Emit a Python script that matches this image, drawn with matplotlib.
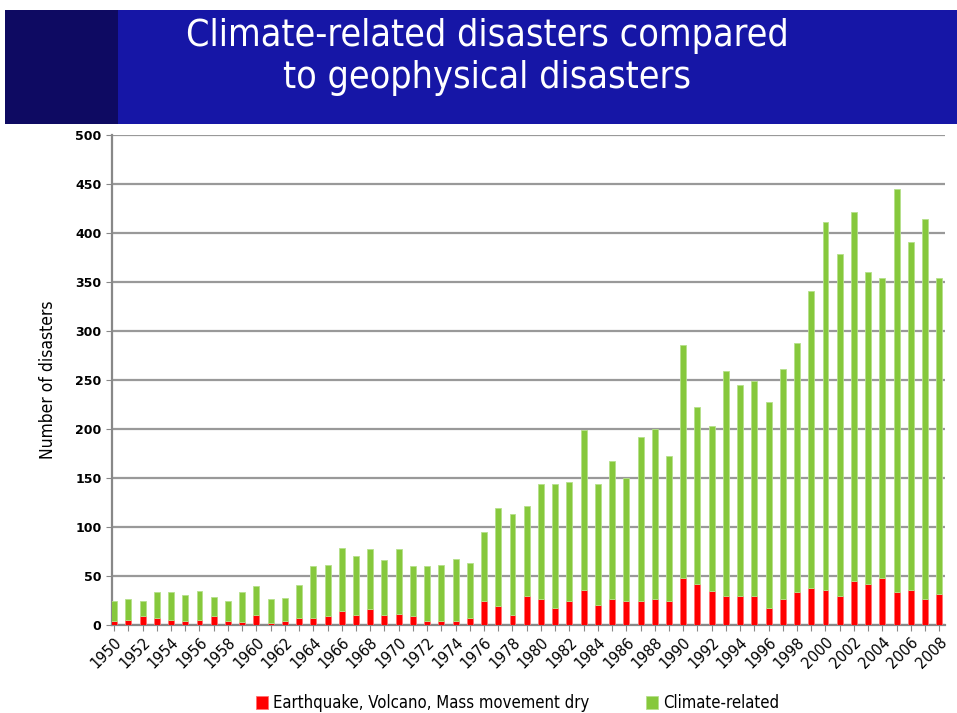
import matplotlib.pyplot as plt
from matplotlib.patches import Rectangle
import numpy as np

years = list(range(1950, 2009))
geophysical = [4, 5, 9, 7, 5, 4, 5, 9, 4, 3, 10, 2, 4, 7, 7, 9, 14, 10, 16, 10,
               11, 9, 4, 4, 4, 7, 25, 19, 10, 30, 27, 17, 24, 36, 20, 27, 24, 24, 27, 24,
               48, 42, 35, 30, 30, 30, 17, 27, 34, 38, 36, 30, 45, 42, 48, 34, 36, 27, 32]
climate = [20, 22, 15, 27, 29, 27, 30, 20, 20, 31, 30, 25, 24, 34, 53, 52, 65, 60, 62, 56,
           67, 51, 56, 57, 63, 56, 70, 100, 103, 91, 117, 127, 122, 163, 124, 140, 126, 168, 173, 148,
           238, 180, 168, 229, 215, 219, 211, 234, 254, 303, 375, 349, 376, 318, 306, 411, 355, 387, 322]
year_labels = [str(y) if y % 2 == 0 else '' for y in years]

red = '#FF0000'
green = '#86C83C'
narrow = dict(family='DejaVu Sans', stretch='condensed')

fig = plt.figure(figsize=(9.57, 7.13), dpi=100)

# title banner
fig.patches.append(Rectangle((0.005, 1 - 124/713), 0.995, 114/713, transform=fig.transFigure,
                             facecolor='#1616A6', edgecolor='none', zorder=0))
fig.patches.append(Rectangle((0.005, 1 - 124/713), 113/957, 114/713, transform=fig.transFigure,
                             facecolor='#0E0A62', edgecolor='none', zorder=1))
fig.text(0.509, 1 - 57/713, 'Climate-related disasters compared\nto geophysical disasters',
         ha='center', va='center', color='white', fontsize=27, linespacing=1.2,
         fontweight='light', **narrow)

ax = fig.add_axes([112/957, 1 - 625/713, 833/957, 490/713])
x = np.arange(len(years))
ax.bar(x, geophysical, width=0.42, color=red, edgecolor='#FF7070', linewidth=0.6,
       label='Earthquake, Volcano, Mass movement dry', zorder=3)
ax.bar(x, climate, bottom=geophysical, width=0.42, color=green, edgecolor='#B5E08A',
       linewidth=0.6, label='Climate-related', zorder=3)

ax.set_ylim(0, 500)
ax.set_xlim(-0.15, len(years) - 0.6)
ax.set_yticks(range(0, 501, 50))
ax.set_xticks(x)
ax.set_xticklabels(year_labels, rotation=45, ha='right', rotation_mode='anchor',
                   fontsize=11.5, **narrow)
for lab in ax.get_yticklabels():
    lab.set_fontweight('bold')
    lab.set_fontsize(9)
ax.yaxis.grid(True, color='#999999', linewidth=1.6, zorder=0)
ax.set_axisbelow(True)
for s in ['top', 'right']:
    ax.spines[s].set_visible(False)
for s in ['left', 'bottom']:
    ax.spines[s].set_color('#888888')
    ax.spines[s].set_linewidth(1.6)
ax.tick_params(axis='both', colors='#888888', labelcolor='black', length=4)
ax.tick_params(axis='x', pad=3)
ax.set_ylabel('Number of disasters', fontsize=12.5, labelpad=13, **narrow)

fig.legend(loc='lower center', bbox_to_anchor=(0.541, -0.02), ncol=2, frameon=False,
           handlelength=0.7, handleheight=0.9, columnspacing=3.4, handletextpad=0.3,
           prop={'family': 'DejaVu Sans', 'stretch': 'condensed', 'size': 12})

fig.savefig('out.png', dpi=100)
